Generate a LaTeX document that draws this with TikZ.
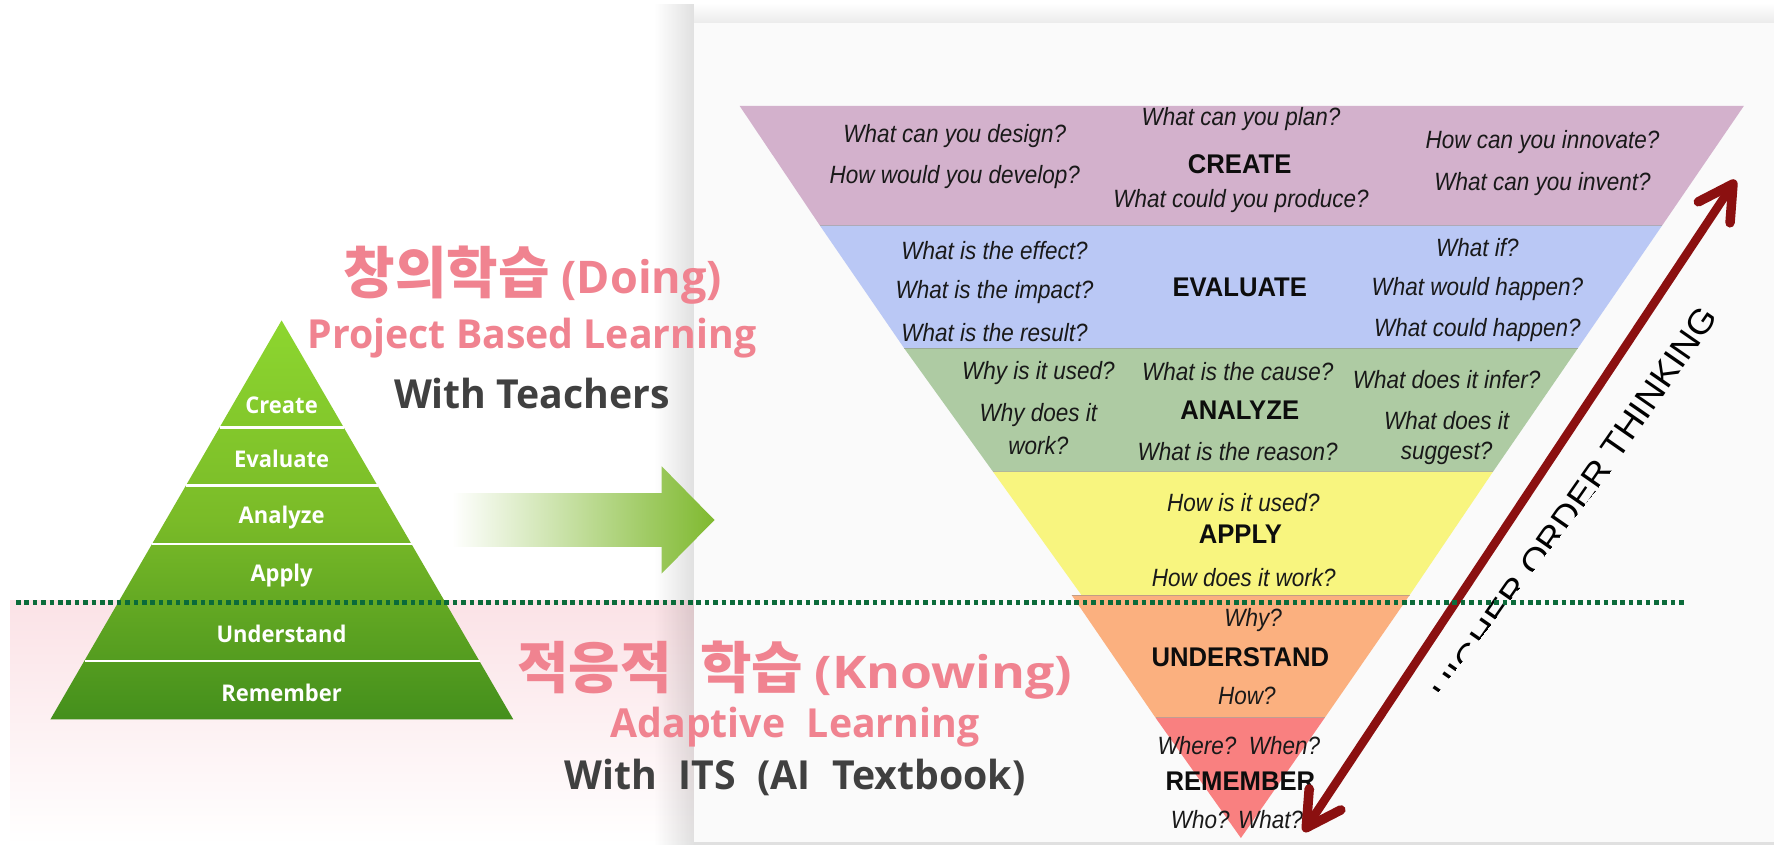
\documentclass[tikz,border=0pt]{standalone}
\usepackage{fontspec}
\setmainfont{Open Sans}
\newfontfamily\krfont{Noto Sans CJK KR}
\newfontfamily\panelfont{Liberation Sans}
\usetikzlibrary{arrows.meta,fadings}
\definecolor{pinktxt}{HTML}{F08390}
\definecolor{darktxt}{HTML}{404040}
\definecolor{dotgreen}{HTML}{0B6B3A}
\definecolor{panelbg}{HTML}{FAFAFA}
\definecolor{arrowred}{HTML}{8B1010}
\definecolor{createcol}{HTML}{D3B1CC}
\definecolor{evalcol}{HTML}{BAC8F5}
\definecolor{analyzecol}{HTML}{AECBA3}
\definecolor{applycol}{HTML}{F8F57F}
\definecolor{undercol}{HTML}{FBB07F}
\definecolor{remembercol}{HTML}{F98080}
\newcommand{\krbig}[1]{{\krfont\bfseries\fontsize{56}{60}\selectfont #1}}
\newcommand{\wide}{\spaceskip=22pt\relax}
\tikzset{
  layer/.style={font=\bfseries\fontsize{23}{27}\selectfont, text=white, inner sep=0pt, xscale=.955, transform shape},
  sep/.style={white, line width=2.5pt},
  ask/.style={font=\panelfont\itshape\fontsize{25}{28}\selectfont, text=black!90, inner sep=0pt, xscale=.9, transform shape},
  head/.style={font=\panelfont\bfseries\fontsize{27}{30}\selectfont, text=black!95, inner sep=0pt, xscale=.95, transform shape},
  band/.style={draw=black!45, draw opacity=.5, line width=.8pt},
  pinkbig/.style={font=\bfseries\fontsize{45}{50}\selectfont, text=pinktxt, inner sep=0pt},
  pinksub/.style={font=\bfseries\fontsize{40}{46}\selectfont, text=pinktxt, inner sep=0pt, xscale=.98, transform shape},
  darksub/.style={font=\bfseries\fontsize{40}{46}\selectfont, text=darktxt, inner sep=0pt, xscale=.98, transform shape},
}
\begin{document}
\begin{tikzpicture}[x=1pt,y=-1pt]
  \useasboundingbox (0,0) rectangle (1774,845);
  % pink band and panel
  \fill[white] (0,0) rectangle (1774,845);
  \shade[top color={rgb,255:red,251;green,226;blue,230}, bottom color=white] (10,600) rectangle (694,845);
  \fill[black, opacity=.12, path fading=west] (654,3) rectangle (694,845);
  \shade[top color=white, bottom color=black!8] (694,3) rectangle (1774,23);
  \fill[panelbg] (694,23) rectangle (1774,842);
  \fill[black!12] (694,842) rectangle (1774,845);
  % inverted pyramid
  \coordinate (c1) at (739.7,106);
  \coordinate (c2) at (1743.8,106);
  \coordinate (e1) at (820,225.7);
  \coordinate (e2) at (1662,225.7);
  \coordinate (n1) at (904,348);
  \coordinate (n2) at (1578,348);
  \coordinate (p1) at (993,471.7);
  \coordinate (p2) at (1493,471.7);
  \coordinate (u1) at (1081.4,595);
  \coordinate (u2) at (1409.7,595);
  \coordinate (r1) at (1155.5,717.7);
  \coordinate (r2) at (1324.8,717.7);
  \coordinate (r3) at (1240.9,838);
  \fill[createcol] (c1) -- (c2) -- (e2) -- (e1) -- cycle;
  \fill[evalcol] (e1) -- (e2) -- (n2) -- (n1) -- cycle;
  \fill[analyzecol] (n1) -- (n2) -- (p2) -- (p1) -- cycle;
  \fill[applycol] (p1) -- (p2) -- (u2) -- (u1) -- cycle;
  \fill[undercol] (1071.6,595) -- (u2) -- (r2) -- (r1) -- cycle;
  \fill[remembercol] (r1) -- (r2) -- (r3) -- cycle;
  \draw[band] (e1) -- (e2);
  \draw[band] (n1) -- (n2);
  \draw[band] (p1) -- (p2);
  \draw[band] (1071.6,595) -- (u2);
  \draw[band] (r1) -- (r2);
  % questions
  \node[ask] (q1) at (954.8,136) {What can you design?};
  \node[ask] (q2) at (954.8,177.5) {How would you develop?};
  \node[ask] (q3) at (1241,119) {What can you plan?};
  \node[head] (create) at (1239.7,164) {CREATE};
  \node[ask] (q4) at (1241,201) {What could you produce?};
  \node[ask] (q5) at (1542.5,142.5) {How can you innovate?};
  \node[ask] (q6) at (1542.5,184) {What can you invent?};
  \node[ask] (q7) at (994.5,251) {What is the effect?};
  \node[ask] (q8) at (994.5,292) {What is the impact?};
  \node[ask] (q9) at (994.5,333) {What is the result?};
  \node[head] (evaluate) at (1239.7,287.3) {EVALUATE};
  \node[ask] (q10) at (1477.4,248) {What if?};
  \node[ask] (q11) at (1477.4,289) {What would happen?};
  \node[ask] (q12) at (1477.4,330) {What could happen?};
  \node[ask] (q13) at (1038.4,373) {Why is it used?};
  \node[ask] (q14) at (1038.4,415) {Why does it};
  \node[ask] (q15) at (1038.4,446) {work?};
  \node[ask] (q16) at (1237.7,372) {What is the cause?};
  \node[head] (analyze) at (1239.7,410.7) {ANALYZE};
  \node[ask] (q17) at (1237.7,452) {What is the reason?};
  \node[ask] (q18) at (1446.6,380) {What does it infer?};
  \node[ask] (q19) at (1446.6,421) {What does it};
  \node[ask] (q20) at (1446.6,453) {suggest?};
  \node[ask] (q21) at (1243.3,503) {How is it used?};
  \node[head] (apply) at (1240.4,534) {APPLY};
  \node[ask] (q22) at (1243.8,578) {How does it work?};
  \node[ask] (q23) at (1253.2,620) {Why?};
  \node[head] (understand) at (1240.4,656.7) {UNDERSTAND};
  \node[ask] (q24) at (1246.8,696) {How?};
  \node[ask] (q25) at (1238.9,746) {Where?\ \ When?};
  \node[head] (remember) at (1240.4,781.7) {REMEMBER};
  \node[ask] (q26) at (1237,819.3) {Who? What?};
  % thinking arrow
  \coordinate (thinktop) at (1735.6,180);
  \coordinate (thinkbot) at (1303.6,831.7);
  \draw[arrowred, line width=8.5pt, {Straight Barb[length=34pt,width=38pt,line width=9.5pt,round]}-{Straight Barb[length=34pt,width=38pt,line width=9.5pt,round]}] (thinkbot) -- (thinktop);
  \begin{scope}
    \clip (1437,693) -- (1760,280) -- (1600,260) -- (1400,600) -- (1400,693) -- cycle;
    \node[font=\panelfont\fontsize{34}{38}\selectfont, inner sep=0pt, rotate=55.2, text=black] (think) at (1575,504) {\scalebox{1.08}[1]{HIGHER ORDER THINKING}};
  \end{scope}
  % left pyramid
  \coordinate (a0) at (281.6,320.4);
  \coordinate (a6) at (50.4,719.4);
  \coordinate (b6) at (513.3,719.4);
  \shade[top color={rgb,255:red,141;green,214;blue,47}, bottom color={rgb,255:red,68;green,143;blue,28}, middle color={rgb,255:red,122;green,187;blue,40}] (a0) -- (b6) -- (a6) -- cycle;
  \draw[sep] (219.5,427.3) -- (343.7,427.3);
  \draw[sep] (186,485.4) -- (377.5,485.4);
  \draw[sep] (152,544) -- (411.5,544);
  \draw[sep] (84.5,660.8) -- (479.5,660.8);
  \node[layer] (create2) at (281.6,405) {Create};
  \node[layer] (evaluate2) at (281.6,459) {Evaluate};
  \node[layer] (analyze2) at (281.6,517.5) {Analyze};
  \node[layer] (apply2) at (281.6,576) {Apply};
  \node[layer] (understand2) at (281.6,634) {Understand};
  \node[layer] (remember2) at (281.6,692.5) {Remember};
  % green arrow
  \shade[left color=white, right color={rgb,255:red,127;green,185;blue,47}] (452,493) -- (661.7,493) -- (661.7,466.3) -- (714.5,520) -- (661.7,573.5) -- (661.7,546.8) -- (452,546.8) -- cycle;
  % dotted line
  \coordinate (dotl) at (16,602.6);
  \coordinate (dotr) at (1684,602.6);
  \draw[dotgreen, line width=4.5pt, dash pattern=on 4.5pt off 3.9pt] (dotl) -- (dotr);
  % captions
  \node[pinkbig] (doing) at (533,275) {\krbig{창의학습} (Doing)};
  \node[pinksub] (pbl) at (532,338) {Project Based Learning};
  \node[darksub] (teachers) at (532,393) {With Teachers};
  \node[pinkbig] (knowing) at (795,670) {{\spaceskip=28pt\relax\krbig{적응적 학습}} \scalebox{1.15}[1]{(Knowing)}};
  \node[pinksub] (adaptive) at (795,727) {\wide Adaptive Learning};
  \node[darksub] (its) at (795,777) {\wide With ITS (AI Textbook)};
\end{tikzpicture}
\end{document}
